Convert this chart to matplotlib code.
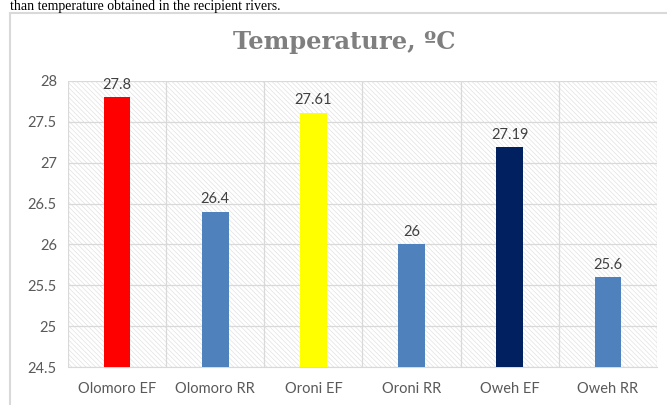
import matplotlib.pyplot as plt
from matplotlib.patches import Rectangle
from matplotlib.lines import Line2D

categories = ["Olomoro EF", "Olomoro RR", "Oroni EF", "Oroni RR", "Oweh EF", "Oweh RR"]
temperature = [27.8, 26.4, 27.61, 26, 27.19, 25.6]
value_labels = ["27.8", "26.4", "27.61", "26", "27.19", "25.6"]
bar_colors = ["#FF0000", "#4F81BD", "#FFFF00", "#4F81BD", "#002060", "#4F81BD"]
y_ticks = [24.5, 25, 25.5, 26, 26.5, 27, 27.5, 28]

plt.rcParams['font.family'] = ['Lato', 'DejaVu Sans']
plt.rcParams['hatch.color'] = '#E2E2E2'
plt.rcParams['hatch.linewidth'] = 0.5

fig = plt.figure(figsize=(6.67, 4.05), dpi=100)
ax = fig.add_axes([68 / 667, 38 / 405, 589 / 667, 286 / 405])

# hatched plot background
ax.add_patch(Rectangle((0, 0), 1, 1, transform=ax.transAxes, facecolor='white',
                       edgecolor='#E2E2E2', hatch='\\\\\\\\\\\\\\', linewidth=0, zorder=0))

x = list(range(len(categories)))
ax.bar(x, [t - 24.5 for t in temperature], bottom=24.5, width=0.27,
       color=bar_colors, zorder=3)

for xi, t, lab in zip(x, temperature, value_labels):
    ax.annotate(lab, (xi, t), xytext=(0, 4), textcoords='offset points',
                ha='center', va='bottom', fontsize=10.5, color='#404040', zorder=4)

ax.set_xlim(-0.5, len(categories) - 0.5)
ax.set_ylim(24.5, 28)
ax.set_yticks(y_ticks)
ax.set_yticklabels([f"{v:g}" for v in y_ticks])
ax.set_xticks(x)
ax.set_xticklabels(categories)

# gridlines: horizontal at ticks, vertical at category boundaries
for v in y_ticks:
    ax.axhline(v, color='#D9D9D9', linewidth=0.9, zorder=1)
for b in range(len(categories) + 1):
    ax.axvline(b - 0.5, color='#D9D9D9', linewidth=0.9, zorder=1)

for s in ax.spines.values():
    s.set_visible(False)
ax.spines['bottom'].set_visible(True)
ax.spines['bottom'].set_color('#D9D9D9')
ax.tick_params(length=0, labelsize=10.5, labelcolor='#595959')
ax.tick_params(axis='x', pad=11)
ax.tick_params(axis='y', pad=8)

fig.text(344 / 667, 1 - 42 / 405, "Temperature, ºC", ha='center', va='center',
         fontsize=17.5, fontweight='bold', color='#7F7F7F', family='DejaVu Serif')

# chart frame (left and top edges visible)
fig.add_artist(Line2D([10 / 667, 10 / 667], [0, 1 - 13 / 405], color='#D9D9D9', linewidth=1.5))
fig.add_artist(Line2D([10 / 667, 1], [1 - 13 / 405, 1 - 13 / 405], color='#D9D9D9', linewidth=1.5))

# end of the sentence above the chart
fig.text(10 / 667, 1 - 10 / 405, "than temperature obtained in the recipient rivers.",
         ha='left', va='baseline', fontsize=10, color='black', family='Liberation Serif')

fig.savefig("out.png", dpi=100)
